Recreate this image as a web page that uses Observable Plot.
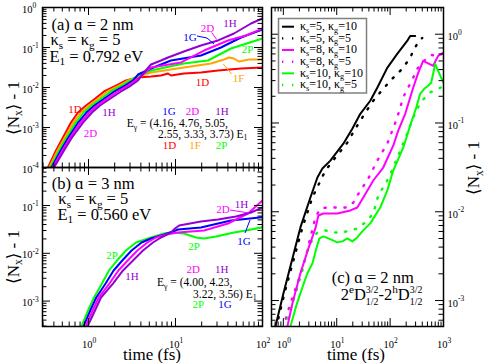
<!DOCTYPE html>
<html>
<head>
<meta charset="utf-8">
<script src="https://cdn.jsdelivr.net/npm/d3@7"></script>
<script src="https://cdn.jsdelivr.net/npm/@observablehq/plot@0.6"></script>
<style>
html,body{margin:0;padding:0;background:#fff;}
#chart{position:relative;width:485px;height:363px;overflow:hidden;background:#fff;}
#chart svg{position:absolute;left:0;top:0;}
</style>
</head>
<body>
<div id="chart"></div>
<script>
// ================= DATA =================
// Panel (a): a = 2 nm, ks = kg = 5 ; time (fs) vs <Nx> - 1
const riseA = [7.5e-5, 1e-4, 2.66e-4, 5.62e-4, 1.33e-3, 2.37e-3, 3.55e-3, 5.01e-3, 7.94e-3, 0.0112, 0.015];
const a1D_t = [0.325, 0.342, 0.423, 0.509, 0.629, 0.757, 0.936, 1.157, 1.507, 2.07, 2.70, 3.71, 5.23, 6.81, 8.2, 8.87, 12.5, 19.6, 30.8, 56.6, 100];
const a1D_y = [...riseA, 0.0178, 0.0188, 0.020, 0.0224, 0.020, 0.0224, 0.0237, 0.0266, 0.0299, 0.0316];
const a1F_t = [0.336, 0.353, 0.441, 0.534, 0.671, 0.816, 1.008, 1.252, 1.649, 2.242, 2.875, 3.71, 5.23, 12.5, 25.6, 36.1, 41.2, 47, 53.7, 70, 100];
const a1F_y = [...riseA, 0.0188, 0.0237, 0.0316, 0.0398, 0.050, 0.0562, 0.053, 0.0447, 0.050, 0.050];
const a2P_t = [0.347, 0.365, 0.460, 0.560, 0.714, 0.878, 1.085, 1.356, 1.804, 2.427, 3.063, 3.71, 5.23, 12.5, 23.6, 43.4, 100];
const a2P_y = [...riseA, 0.020, 0.0266, 0.0398, 0.0473, 0.0944, 0.168];
const a1G_t = [0.358, 0.377, 0.480, 0.587, 0.761, 0.946, 1.169, 1.468, 1.974, 2.628, 3.265, 3.71, 5.23, 8.87, 19.6, 33.3, 56.6, 100];
const a1G_y = [...riseA, 0.0211, 0.0299, 0.0473, 0.063, 0.10, 0.178, 0.282];
const a2D_t = [0.37, 0.389, 0.501, 0.616, 0.811, 1.019, 1.259, 1.589, 2.160, 2.844, 3.478, 4.23, 5.23, 11.6, 21.3, 40.1, 64.6, 100];
const a2D_y = [...riseA, 0.0211, 0.0316, 0.0422, 0.084, 0.15, 0.20, 0.298];
const a1H_t = [0.381, 0.401, 0.523, 0.646, 0.865, 1.097, 1.356, 1.72, 2.364, 3.08, 3.707, 4.35, 5.23, 6.81, 8.2, 12.5, 19.6, 30.8, 47, 73.8, 100];
const a1H_y = [...riseA, 0.0237, 0.0376, 0.0473, 0.0562, 0.0794, 0.112, 0.15, 0.224, 0.398, 0.531];

// Panel (b): a = 3 nm, ks = kg = 5
const riseB = [2.8e-4, 6.35e-4, 1.19e-3, 2.33e-3, 4.37e-3, 7.06e-3, 0.01145, 0.01683];
const b2P_t = [0.820, 0.987, 1.157, 1.429, 1.72, 2.127, 2.698, 3.516, 5.23, 7.38, 8.87, 12.5, 17.2, 21.3, 29.2, 47, 64.6, 100];
const b2P_y = [...riseB, 0.0214, 0.026, 0.0272, 0.026, 0.0214, 0.0204, 0.0224, 0.0272, 0.030, 0.035];
const b1G_t = [0.865, 1.049, 1.229, 1.572, 1.943, 2.446, 3.129, 4.076, 5.23, 7.38, 9.36, 10.7, 19.6, 43.4, 100];
const b1G_y = [...riseB, 0.0204, 0.0247, 0.0286, 0.0315, 0.0347, 0.0485, 0.057];
const b2D_t = [0.912, 1.118, 1.31, 1.739, 2.207, 2.822, 3.648, 4.753, 5.97, 7.78, 10.7, 21.3, 40.1, 68.1, 100];
const b2D_y = [...riseB, 0.0214, 0.0247, 0.0272, 0.030, 0.042, 0.068, 0.127];
const b1H_t = [0.961, 1.188, 1.392, 1.912, 2.492, 3.247, 4.23, 5.51, 6.81, 8.87, 9.87, 11.0, 19.6, 30.8, 49.6, 73.8, 100];
const b1H_y = [...riseB, 0.0214, 0.0272, 0.033, 0.0382, 0.0462, 0.0509, 0.0589, 0.0714, 0.0908];

// Panel (c): a = 2 nm, 2eD3/2_1/2 - 2hD3/2_1/2
const c5_10_t = [0.63, 0.713, 1.005, 2.089, 3.214, 4.345, 5.387, 7.6, 13.3, 19.59, 27.65, 42.51, 57.44, 88.36, 109.6, 135.9, 208.9, 237.8, 294.9];
const c5_10_y = [3.8e-4, 5.14e-4, 1.21e-3, 6.67e-3, 0.0145, 0.0243, 0.0307, 0.0377, 0.0585, 0.0863, 0.127, 0.178, 0.2493, 0.4178, 0.501, 0.601, 0.841, 0.957, 0.957];
const c5_5_t = [0.66, 0.744, 1.05, 2.278, 3.503, 6.128, 9.426, 15.8, 22.29, 34.28, 48.36, 74.37, 109.6, 168.5, 237.8, 270.5, 321.4, 398.6];
const c5_5_y = [3.8e-4, 5.14e-4, 1.21e-3, 6.67e-3, 0.0145, 0.0291, 0.0407, 0.0601, 0.0863, 0.1305, 0.178, 0.2427, 0.3148, 0.4074, 0.542, 0.649, 0.778, 0.908];
const c8_10_t = [1.07, 1.194, 1.481, 2.089, 2.949, 3.985, 4.534, 5.623, 10.27, 17.97, 24.29, 31.45, 48.36, 74.37, 114.4, 141.9, 191.8, 227.8, 270.5, 335.5, 415.9, 494.2, 639.7, 793.4, 1000];
const c8_10_y = [3.8e-4, 5.14e-4, 9.33e-4, 2.03e-3, 3.87e-3, 6.49e-3, 9.08e-3, 9.57e-3, 9.57e-3, 0.01035, 0.01117, 0.0145, 0.0225, 0.0315, 0.0555, 0.082, 0.127, 0.178, 0.2493, 0.3673, 0.501, 0.4764, 0.4406, 0.570, 0.616];
const c8_5_t = [0.86, 1.005, 1.358, 1.918, 2.591, 3.214, 3.985, 4.942, 6.678, 10.27, 15.8, 20.45, 27.65, 37.36, 57.44, 88.36, 135.9, 168.5, 191.8, 237.8, 270.5, 321.4, 398.6, 494.2, 587, 760, 942.6];
const c8_5_y = [3.8e-4, 5.14e-4, 9.33e-4, 1.69e-3, 2.99e-3, 5.14e-3, 8.63e-3, 0.0109, 0.01117, 0.01117, 0.01117, 0.0127, 0.0173, 0.0225, 0.0377, 0.0585, 0.1146, 0.178, 0.219, 0.2767, 0.323, 0.4074, 0.4764, 0.542, 0.585, 0.570, 0.601];
const c10_10_t = [1.18, 1.358, 1.759, 2.278, 2.824, 3.503, 4.159, 4.734, 5.623, 6.97, 10.27, 12.74, 15.8, 19.59, 24.29, 30.12, 42.51, 65.37, 88.36, 114.4, 176, 237.8, 307.8, 365.6, 434.4, 516, 587, 639.7, 697.2, 793.4, 1000];
const c10_10_y = [3.8e-4, 5.14e-4, 8.87e-4, 1.41e-3, 2.03e-3, 2.62e-3, 3.87e-3, 5.01e-3, 5.28e-3, 5.01e-3, 4.52e-3, 4.64e-3, 5.01e-3, 4.64e-3, 5.14e-3, 6.01e-3, 7.4e-3, 0.01117, 0.0173, 0.0291, 0.0527, 0.0933, 0.1486, 0.2134, 0.2427, 0.2624, 0.2838, 0.3581, 0.4634, 0.3873, 0.2838];
const c10_5_t = [0.94, 1.096, 1.358, 1.837, 2.278, 2.824, 3.656, 4.345, 6.128, 9.426, 12.74, 17.97, 24.29, 34.28, 48.36, 59.98, 88.36, 114.4, 154.6, 208.9, 270.5, 321.4, 398.6, 516, 639.7, 864.8, 1000];
const c10_5_y = [3.8e-4, 5.14e-4, 7.78e-4, 1.41e-3, 2.19e-3, 3.67e-3, 5.14e-3, 5.85e-3, 6.16e-3, 5.85e-3, 5.85e-3, 6.16e-3, 6.49e-3, 7.59e-3, 9.57e-3, 0.01525, 0.0225, 0.0315, 0.0489, 0.0758, 0.1146, 0.1448, 0.178, 0.2134, 0.2307, 0.2493, 0.26];

const legendC = ["ks=5, kg=10", "ks=5, kg=5", "ks=8, kg=10", "ks=8, kg=5", "ks=10, kg=10", "ks=10, kg=5"];

// ================= STYLE =================
const SERIF = '"Liberation Serif","DejaVu Serif","Times New Roman",serif';
const COL = {red:"#ff0000", orange:"#ffa500", green:"#00ff00", blue:"#0000ff", magenta:"#ff00ff", violet:"#9400d3", black:"#000000"};
const DOTS = "1.3,8.7";
const zip = (t, y) => t.map((v, i) => ({t: v, y: y[i]}));

function decades([lo, hi]) {
  const major = [], minor = [];
  for (let k = Math.floor(Math.log10(lo)); k <= Math.ceil(Math.log10(hi)); k++) {
    const p = +("1e" + k);
    if (p >= lo * 0.999 && p <= hi * 1.001) major.push(p);
    for (let m = 2; m <= 9; m++) { const v = m * p; if (v >= lo && v <= hi) minor.push(v); }
  }
  return {major, minor};
}
const expo = d => String(Math.round(Math.log10(d)));

function axisMarks(xd, yd, fw, fh, o) {
  const X = decades(xd), Y = decades(yd), M = 8, m = 4.5;
  const st = {stroke: "#000", strokeWidth: 1};
  const mk = [
    Plot.tickX(X.major, {x: d => d, insetBottom: fh - M, ...st}),
    Plot.tickX(X.minor, {x: d => d, insetBottom: fh - m, ...st}),
    Plot.tickX(X.major, {x: d => d, insetTop: fh - M, ...st}),
    Plot.tickX(X.minor, {x: d => d, insetTop: fh - m, ...st}),
    Plot.tickY(Y.major, {y: d => d, insetRight: fw - M, ...st}),
    Plot.tickY(Y.minor, {y: d => d, insetRight: fw - m, ...st}),
    Plot.tickY(Y.major, {y: d => d, insetLeft: fw - M, ...st}),
    Plot.tickY(Y.minor, {y: d => d, insetLeft: fw - m, ...st})
  ];
  if (o.bottom) {
    mk.push(Plot.text(X.major, {x: d => d, frameAnchor: "bottom", text: () => "10", textAnchor: "end", lineAnchor: "bottom", dx: 4, dy: 21.5, fontSize: 10.5}));
    mk.push(Plot.text(X.major, {x: d => d, frameAnchor: "bottom", text: expo, textAnchor: "start", lineAnchor: "bottom", dx: 4, dy: 16.5, fontSize: 7.5}));
  }
  if (o.left) {
    mk.push(Plot.text(Y.major, {y: d => d, frameAnchor: "left", text: () => "10", textAnchor: "end", lineAnchor: "bottom", dx: -10, dy: 5, fontSize: 10.5}));
    mk.push(Plot.text(Y.major, {y: d => d, frameAnchor: "left", text: expo, textAnchor: "start", lineAnchor: "bottom", dx: -10, dy: 0.5, fontSize: 7.5}));
  }
  if (o.right) {
    mk.push(Plot.text(Y.major, {y: d => d, frameAnchor: "right", text: () => "10", textAnchor: "start", lineAnchor: "bottom", dx: 4, dy: 6, fontSize: 10.5}));
    mk.push(Plot.text(Y.major, {y: d => d, frameAnchor: "right", text: expo, textAnchor: "start", lineAnchor: "bottom", dx: 14.5, dy: 0.5, fontSize: 7.5}));
  }
  mk.push(Plot.frame({stroke: "#000", strokeWidth: 1.5}));
  return mk;
}

function panel({xd, yd, ml, mt, mr, mb, series, axes}) {
  const fw = 485 - ml - mr, fh = 363 - mt - mb;
  return Plot.plot({
    width: 485, height: 363,
    marginLeft: ml, marginTop: mt, marginRight: mr, marginBottom: mb,
    x: {type: "log", domain: xd, axis: null},
    y: {type: "log", domain: yd, axis: null},
    style: {background: "transparent", overflow: "visible", fontFamily: SERIF, color: "#000"},
    marks: [
      ...series.map(s => Plot.line(zip(s.t, s.y), {x: "t", y: "y", stroke: s.c,
        strokeWidth: s.dash ? 2.4 : 2, strokeDasharray: s.dash ? DOTS : null, clip: true, curve: "linear"})),
      ...axisMarks(xd, yd, fw, fh, axes)
    ]
  });
}

const chart = document.getElementById("chart");

chart.append(panel({
  xd: [0.296, 100], yd: [1e-4, 1], ml: 42, mt: 7, mr: 223, mb: 196,
  series: [
    {t: a1D_t, y: a1D_y, c: COL.red}, {t: a1F_t, y: a1F_y, c: COL.orange},
    {t: a2P_t, y: a2P_y, c: COL.green}, {t: a1G_t, y: a1G_y, c: COL.blue},
    {t: a2D_t, y: a2D_y, c: COL.magenta}, {t: a1H_t, y: a1H_y, c: COL.violet}
  ],
  axes: {left: true}
}));

chart.append(panel({
  xd: [0.296, 100], yd: [2.94e-4, 0.624], ml: 42, mt: 167, mr: 223, mb: 37,
  series: [
    {t: b2P_t, y: b2P_y, c: COL.green}, {t: b1G_t, y: b1G_y, c: COL.blue},
    {t: b2D_t, y: b2D_y, c: COL.magenta}, {t: b1H_t, y: b1H_y, c: COL.violet}
  ],
  axes: {left: true, bottom: true}
}));

chart.append(panel({
  xd: [0.6, 1000], yd: [5.1e-4, 2.0], ml: 271, mt: 7, mr: 42, mb: 37,
  series: [
    {t: c5_5_t, y: c5_5_y, c: COL.black, dash: true}, {t: c8_5_t, y: c8_5_y, c: COL.magenta, dash: true},
    {t: c10_5_t, y: c10_5_y, c: COL.green, dash: true},
    {t: c5_10_t, y: c5_10_y, c: COL.black}, {t: c8_10_t, y: c8_10_y, c: COL.magenta},
    {t: c10_10_t, y: c10_10_y, c: COL.green}
  ],
  axes: {right: true, bottom: true}
}));

// ================= ANNOTATIONS (real text) =================
const ov = d3.select(chart).append("svg").attr("width", 485).attr("height", 363)
  .style("overflow", "visible").style("font-family", SERIF).style("pointer-events", "none");

function rich(x, y, parts, o = {}) {
  const size = o.size || 16.5, anchor = o.anchor || "start", rot = o.rotate || 0;
  const g = ov.append("g").attr("fill", o.fill || "#000");
  let cx = 0;
  const put = (s, px, dy, fs) => {
    const t = g.append("text").attr("x", px).attr("y", dy).attr("font-size", fs)
      .style("white-space", "pre").text(s);
    return t.node().getComputedTextLength();
  };
  for (const p of parts) {
    if (typeof p === "string") cx += put(p, cx, 0, size);
    else if (p.sub !== undefined) cx += put(p.sub, cx, size * 0.22, size * 0.68);
    else if (p.sup !== undefined) cx += put(p.sup, cx, -size * 0.42, size * 0.68);
    else if (p.stack) {
      const w1 = put(p.stack[0], cx, -size * 0.42, size * 0.6);
      const w2 = put(p.stack[1], cx, size * 0.3, size * 0.6);
      cx += Math.max(w1, w2);
    }
  }
  const dx = anchor === "middle" ? -cx / 2 : anchor === "end" ? -cx : 0;
  g.attr("transform", `translate(${x},${y}) rotate(${rot}) translate(${dx},0)`);
}
const lab = (x, y, s, c) => rich(x, y, [s], {size: 11, fill: c, anchor: "middle"});
const lead = (pts, c) => ov.append("polyline").attr("points", pts.map(p => p.join(",")).join(" "))
  .attr("fill", "none").attr("stroke", c).attr("stroke-width", 1);
const kappa = s => { const m = s.match(/ks=(\d+), kg=(\d+)/); return ["κ", {sub: "s"}, "=" + m[1] + ", κ", {sub: "g"}, "=" + m[2]]; };

// panel (a)
rich(51.5, 29.5, ["(a) ɑ = 2 nm"]);
rich(50.5, 45, ["κ", {sub: "s"}, " = κ", {sub: "g"}, " = 5"]);
rich(49.5, 61.5, ["E", {sub: "1"}, " = 0.792 eV"]);
lab(207.5, 32, "2D", COL.magenta); lab(230, 27, "1H", COL.violet); lab(190, 40.5, "1G", COL.blue);
lab(247.5, 53, "2P", COL.green); lab(238.5, 81.5, "1F", COL.orange); lab(202.5, 85.5, "1D", COL.red);
lead([[197, 36], [207, 38], [214, 44]], COL.blue);
lead([[211.7, 32.5], [216.7, 39.5]], COL.magenta);
lead([[231.7, 74], [223.3, 64]], COL.orange);
lab(75, 113, "1D", COL.red); lab(109, 116, "1H", COL.violet); lab(90.5, 136.5, "2D", COL.magenta);
lab(169, 115, "1G", COL.blue); lab(192.5, 115, "2D", COL.magenta); lab(222, 115, "1H", COL.violet);
rich(126.7, 127, ["E", {sub: "γ"}, " = (4.16, 4.76, 5.05,"], {size: 11.5});
rich(158, 137.5, ["2.55, 3.33, 3.73) E", {sub: "1"}], {size: 11.5});
lab(169.5, 148.5, "1D", COL.red); lab(195, 148.5, "1F", COL.orange); lab(221.5, 148.5, "2P", COL.green);

// panel (b)
rich(51.7, 189, ["(b) ɑ = 3 nm"]);
rich(58.3, 204, ["κ", {sub: "s"}, " = κ", {sub: "g"}, " = 5"]);
rich(57.5, 219.5, ["E", {sub: "1"}, " = 0.560 eV"]);
lab(223, 213, "2D", COL.magenta); lab(241.5, 208, "1H", COL.violet);
lab(194, 250, "2P", COL.green); lab(244, 245, "1G", COL.blue);
lead([[230, 210], [249, 213]], COL.magenta);
lead([[245, 233], [250, 220]], COL.blue);
lab(112, 259, "2P", COL.green); lab(132, 280, "1H", COL.violet);
lab(193.3, 273, "2D", COL.magenta); lab(221.7, 273, "1H", COL.violet);
rich(157, 286, ["E", {sub: "γ"}, " = (4.00, 4.23,"], {size: 11.5});
rich(193, 297.5, ["3.22, 3.56) E", {sub: "1"}], {size: 11.5});
lab(198.3, 308, "2P", COL.green); lab(225, 308, "1G", COL.blue);

// panel (c)
rich(331.7, 282.7, ["(c) ɑ = 2 nm"]);
rich(340.7, 300, ["2", {sup: "e"}, "D", {stack: ["3/2", "1/2"]}, "-2", {sup: "h"}, "D", {stack: ["3/2", "1/2"]}]);

// legend (c)
ov.append("rect").attr("x", 278.5).attr("y", 18.5).attr("width", 88).attr("height", 74.5)
  .attr("fill", "#fff").attr("stroke", "#808080").attr("stroke-width", 1.5);
const legCols = [COL.black, COL.black, COL.magenta, COL.magenta, COL.green, COL.green];
legendC.forEach((s, i) => {
  const by = 30 + i * 11.66;
  ov.append("line").attr("x1", 282).attr("x2", 294).attr("y1", by - 3.3).attr("y2", by - 3.3)
    .attr("stroke", legCols[i]).attr("stroke-width", i % 2 ? 2.4 : 2).attr("stroke-dasharray", i % 2 ? DOTS : null);
  rich(300, by, kappa(s), {size: 12});
});

// axis titles
rich(152, 359.5, ["time (fs)"], {size: 17, anchor: "middle"});
rich(356, 359.5, ["time (fs)"], {size: 17, anchor: "middle"});
rich(18.5, 108, ["⟨N", {sub: "x"}, "⟩ - 1"], {size: 17, anchor: "middle", rotate: -90});
rich(18.5, 257, ["⟨N", {sub: "x"}, "⟩ - 1"], {size: 17, anchor: "middle", rotate: -90});
rich(479, 168, ["⟨N", {sub: "x"}, "⟩ - 1"], {size: 17, anchor: "middle", rotate: -90});
</script>
</body>
</html>
